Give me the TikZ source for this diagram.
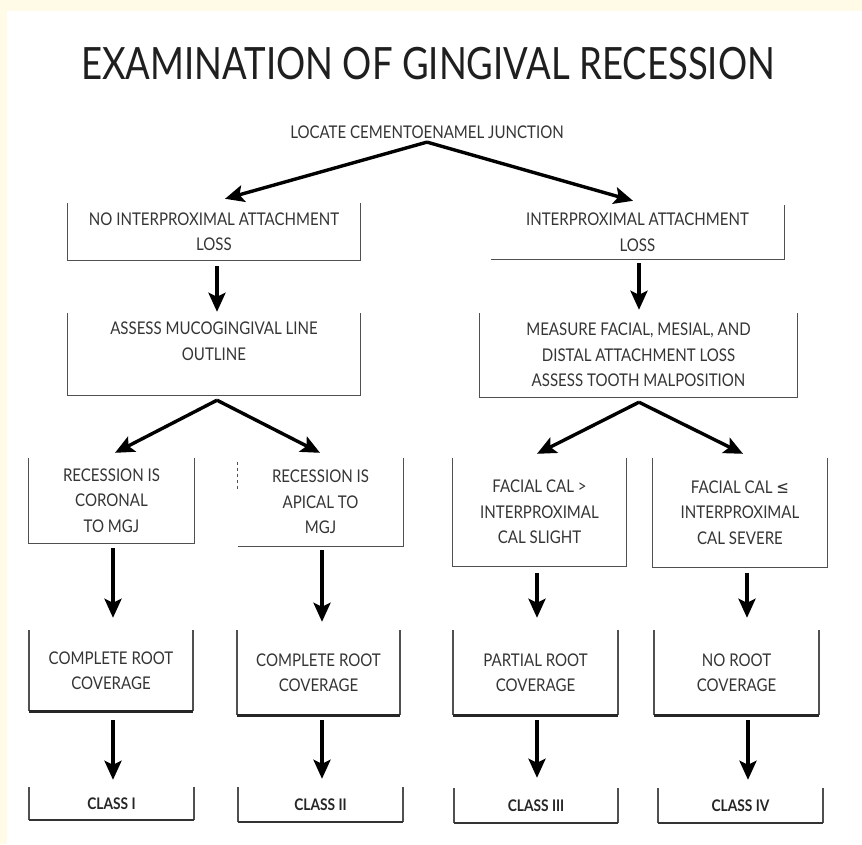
\documentclass[tikz,border=0pt]{standalone}
\usepackage{fontspec}
\setmainfont{Lato}[FakeStretch=0.86]
\newfontfamily\titlef{Lato}[FakeStretch=0.82]
\newfontfamily\symf{DejaVu Sans}[FakeStretch=0.86]
\usetikzlibrary{arrows.meta,calc}
\definecolor{cream}{HTML}{FFFBE6}
\definecolor{txt}{HTML}{353535}
\definecolor{bline}{HTML}{505050}
\newcommand\drawU[2][]{\draw[bl,#1] (#2.north west) -- (#2.south west) -- (#2.south east) -- (#2.north east);}
\begin{document}
\begin{tikzpicture}[x=1pt,y=-1pt,
  every node/.style={inner sep=0pt, text=txt, align=center, font=\fontsize{17.5}{25.5}\selectfont},
  sz/.style 2 args={minimum width=#1pt, minimum height=#2pt},
  bl/.style={draw=bline, line width=1.2pt},
  arr/.style={draw=black, line width=3.4pt, -{Stealth[length=19pt,width=17pt,inset=4pt]}},
  cls/.style={font=\fontsize{16}{18}\selectfont\bfseries, text=black!85}
]
\fill[cream] (0,0) rectangle (862,844);
\fill[white] (7,11) rectangle (862,844);
\useasboundingbox (0,0) rectangle (862,844);

\node[text=black!88, font=\titlef\fontsize{44.5}{44}\selectfont] (title) at (428,64) {EXAMINATION OF GINGIVAL RECESSION};
\node (locate) at (427,132) {LOCATE CEMENTOENAMEL JUNCTION};

\node[sz={292}{57}] (A) at (214,231.5) {NO INTERPROXIMAL ATTACHMENT\\LOSS};
\node[sz={293}{54}] (B) at (637.5,232) {INTERPROXIMAL ATTACHMENT\\LOSS};
\node[sz={292}{82}] (C) at (214,354) {ASSESS MUCOGINGIVAL LINE\\OUTLINE\\\phantom{O}};
\node[sz={317}{84}] (D) at (638.5,355) {MEASURE FACIAL, MESIAL, AND\\DISTAL ATTACHMENT LOSS\\ASSESS TOOTH MALPOSITION};

\node[sz={165}{85}] (E1) at (111.5,500.5) {RECESSION IS\\CORONAL\\TO MGJ};
\node[sz={165}{88}] (E2) at (320.5,502) {RECESSION IS\\APICAL TO\\MGJ};
\node[sz={173}{108}] (E3) at (539.5,512) {FACIAL CAL >\\INTERPROXIMAL\\CAL SLIGHT};
\node[sz={174}{109}] (E4) at (740,512.5) {FACIAL CAL {\symf ≤}\\INTERPROXIMAL\\CAL SEVERE};

\node[sz={164}{81}] (F1) at (111,670.5) {COMPLETE ROOT\\COVERAGE};
\node[sz={163}{85}] (F2) at (318.5,672.5) {COMPLETE ROOT\\COVERAGE};
\node[sz={165}{85}] (F3) at (535.5,672.5) {PARTIAL ROOT\\COVERAGE};
\node[sz={165}{85}] (F4) at (736.5,672.5) {NO ROOT\\COVERAGE};

\node[sz={165}{33}, cls] (G1) at (111.5,803.5) {CLASS I};
\node[sz={165}{35}, cls] (G2) at (320.5,804.5) {CLASS II};
\node[sz={164}{35}, cls] (G3) at (536,805.5) {CLASS III};
\node[sz={165}{35}, cls] (G4) at (740.5,805.5) {CLASS IV};

% boxes (open at the top)
\drawU{A}
\draw[bl] (B.south west) -- (B.south east) -- (B.north east);
\drawU{C}
\drawU{D}
\drawU{E1}
\draw[bl] (E2.south west) -- (E2.south east) -- (E2.north east);
\draw[bl, dashed, line width=1pt] ($(E2.north west)+(0,4)$) -- ($(E2.north west)+(0,32)$);
\drawU{E3}
\drawU{E4}
\foreach \n in {F1,F2,F3,F4}{
  \draw[bl, line width=1.6pt] (\n.north west) -- (\n.south west);
  \draw[bl, line width=1.6pt] (\n.north east) -- (\n.south east);
  \draw[draw=black!85, line width=2.6pt] (\n.south west) -- (\n.south east);
}
\foreach \n in {G1,G2,G3,G4}{
  \draw[bl, line width=1.4pt] (\n.north west) -- (\n.south west);
  \draw[bl, line width=1.6pt] (\n.north east) -- (\n.south east);
  \draw[draw=black!80, line width=2.2pt] (\n.south west) -- (\n.south east);
}

% connectors
\draw[arr] ($(locate.south)+(0,3.5)$) -- ($(A.north)+(11,-4)$);
\draw[arr] ($(locate.south)+(0,3.5)$) -- ($(B.north)+(-4.5,-4)$);
\draw[arr] ($(A.south)+(3,6)$) -- ($(C.north)+(3,-1)$);
\draw[arr] ($(B.south)+(1.5,4)$) -- ($(D.north)+(0.5,-3)$);
\draw[arr] ($(C.south)+(3,5)$) -- ($(E1.north)+(3.5,-5)$);
\draw[arr] ($(C.south)+(3,5)$) -- ($(E2.north)+(-0.5,-5)$);
\draw[arr] ($(D.south)+(0.5,5)$) -- ($(E3.north)+(-2.5,-4)$);
\draw[arr] ($(D.south)+(0.5,5)$) -- ($(E4.north)+(3,-4)$);
\draw[arr] ($(E1.south)+(1.5,5)$) -- ($(F1.north)+(2,-12)$);
\draw[arr] ($(E2.south)+(1.5,4)$) -- ($(F2.north)+(3.5,-8)$);
\draw[arr] ($(E3.south)+(-2.5,7)$) -- ($(F3.north)+(1.5,-12)$);
\draw[arr] ($(E4.south)+(7,6)$) -- ($(F4.north)+(10.5,-12)$);
\draw[arr] ($(F1.south)+(2,9)$) -- ($(G1.north)+(1.5,-7)$);
\draw[arr] ($(F2.south)+(3.5,5)$) -- ($(G2.north)+(1.5,-8)$);
\draw[arr] ($(F3.south)+(1.5,5)$) -- ($(G3.north)+(1,-10)$);
\draw[arr] ($(F4.south)+(11.5,5)$) -- ($(G4.north)+(7.5,-8)$);
\end{tikzpicture}
\end{document}
